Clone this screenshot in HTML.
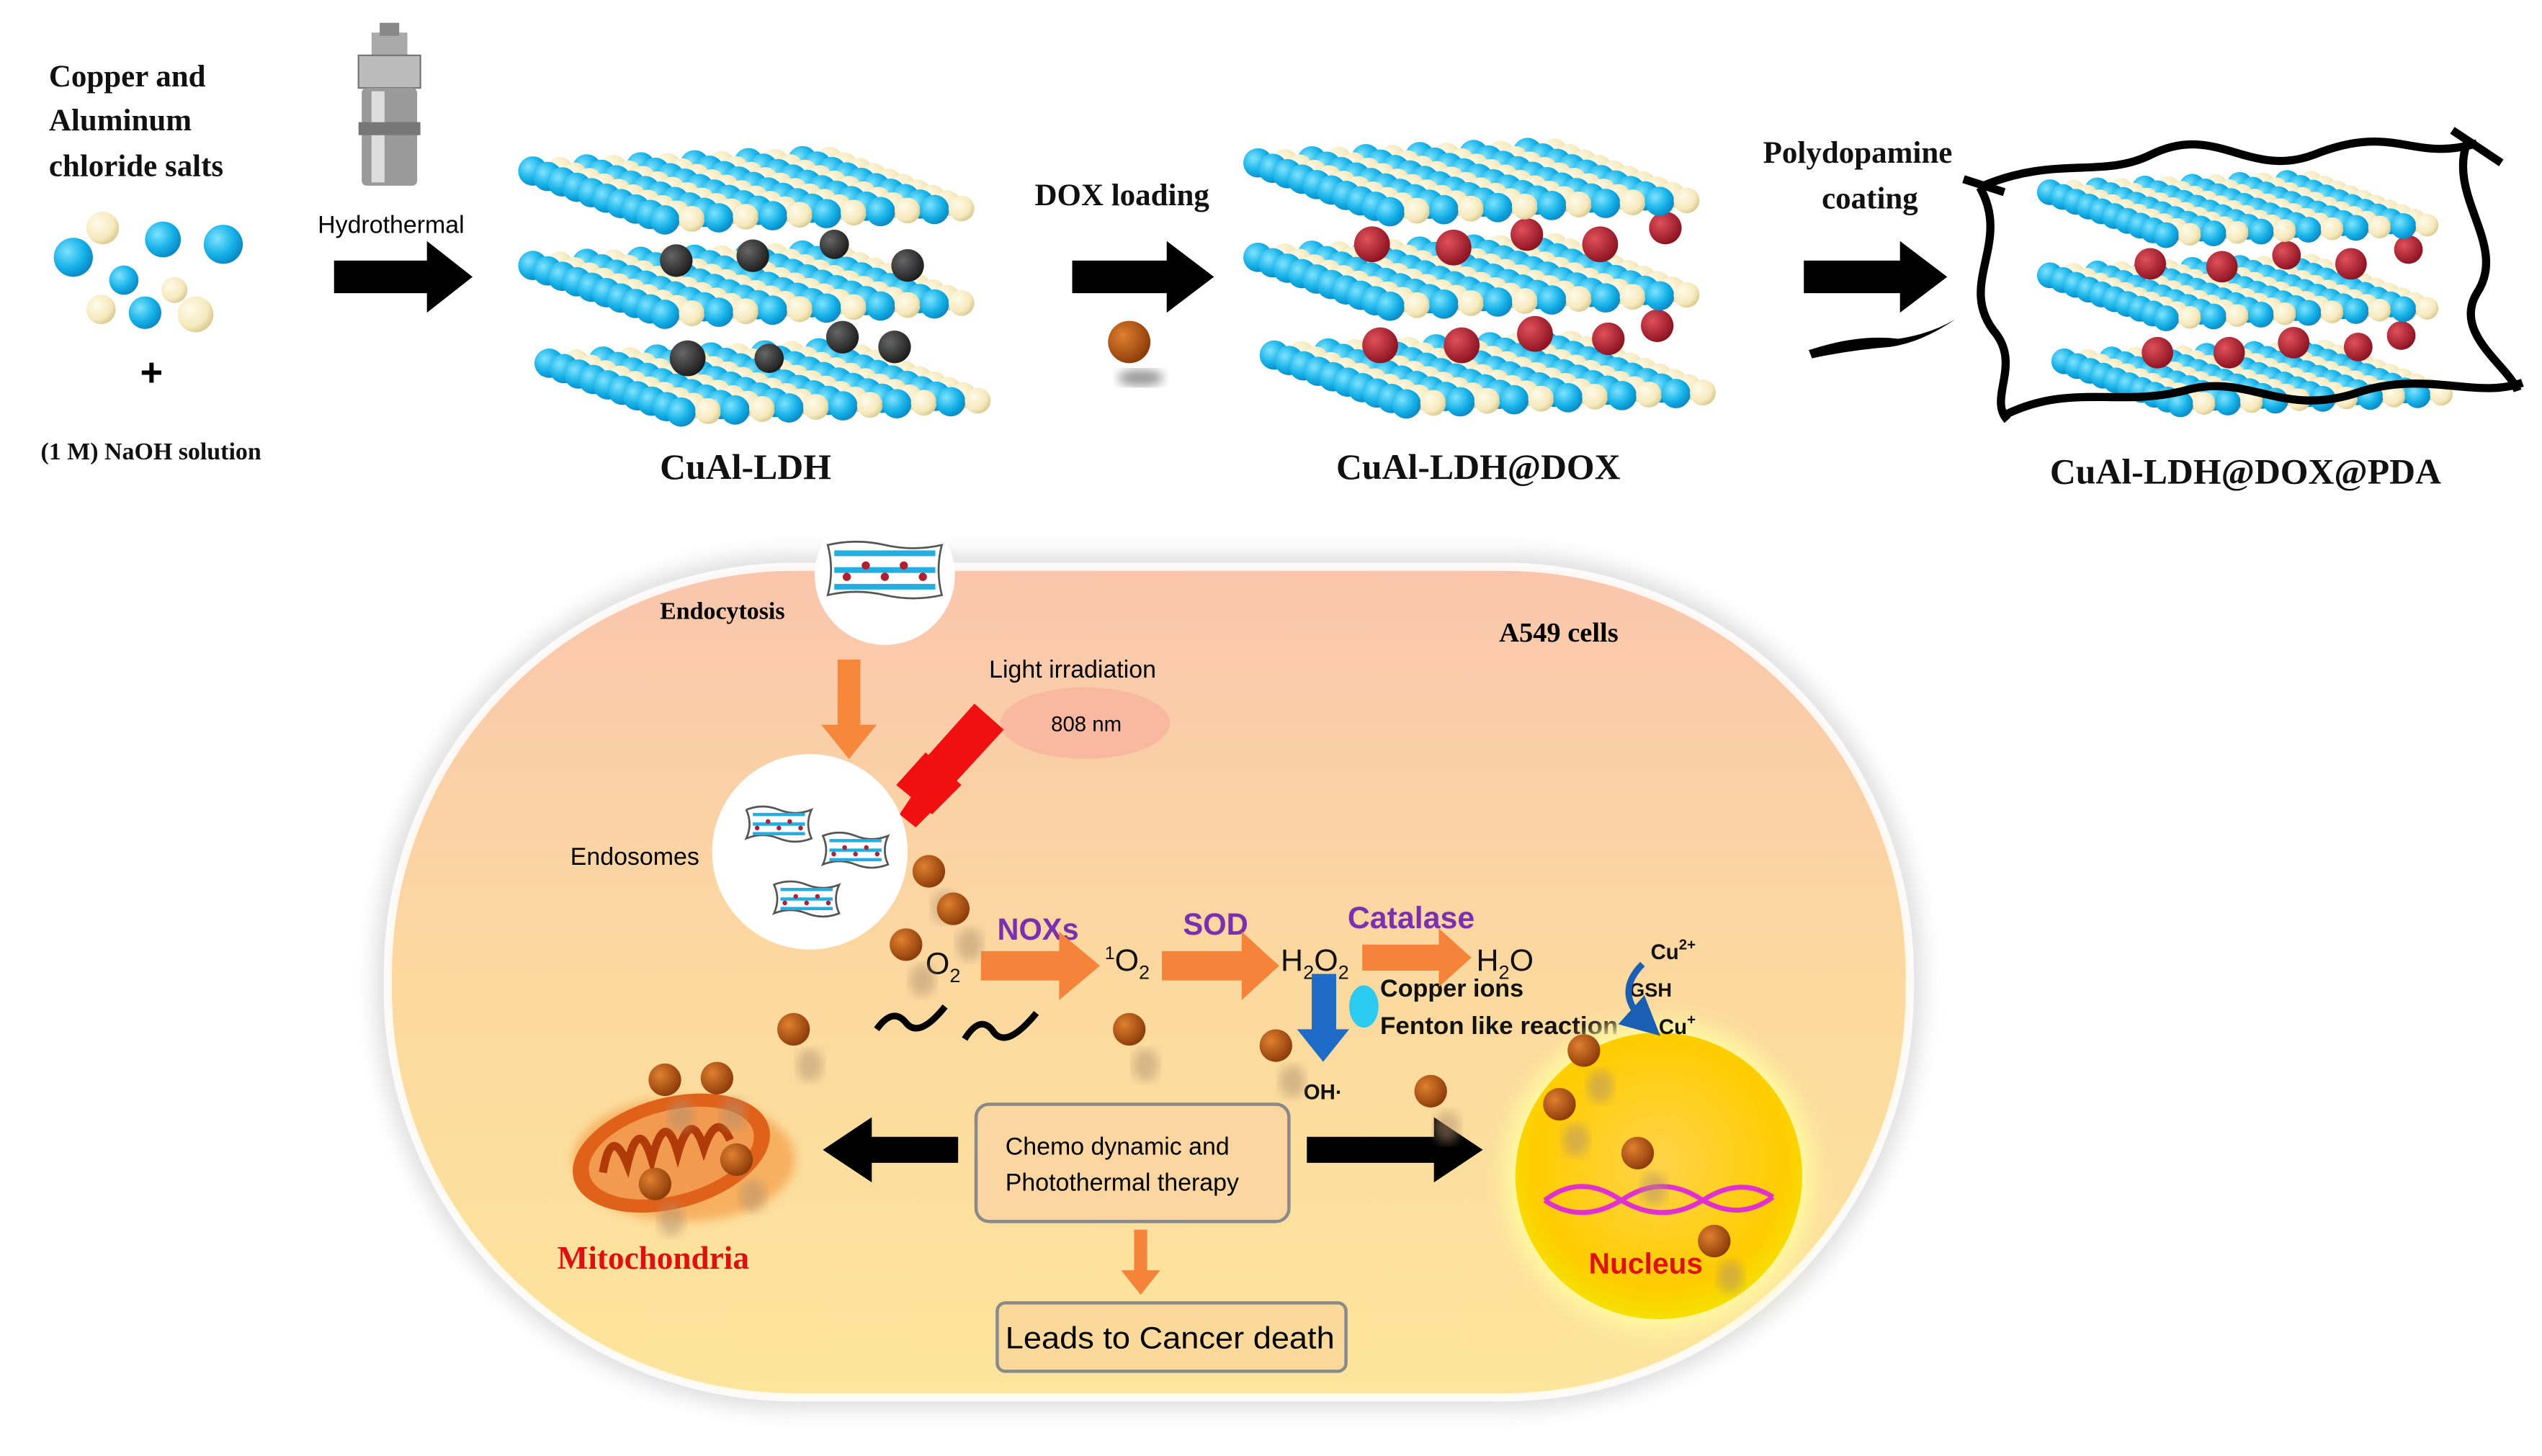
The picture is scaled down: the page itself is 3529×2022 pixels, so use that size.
<!DOCTYPE html>
<html><head><meta charset="utf-8">
<style>
html,body{margin:0;padding:0;background:#fff;}
svg{display:block;}
.serif{font-family:"Liberation Serif",serif;font-weight:bold;}
.sans{font-family:"Liberation Sans",sans-serif;}
</style></head>
<body>
<svg id="s" width="3529" height="2022" viewBox="0 0 1560 894" preserveAspectRatio="none" xmlns="http://www.w3.org/2000/svg">
<defs>
<radialGradient id="gb" cx="35%" cy="35%" r="70%"><stop offset="0" stop-color="#7fe3ff"/><stop offset="0.6" stop-color="#16b2e8"/><stop offset="1" stop-color="#0a86c4"/></radialGradient>
<radialGradient id="gc" cx="35%" cy="35%" r="70%"><stop offset="0" stop-color="#fffbe8"/><stop offset="0.7" stop-color="#f6e9bd"/><stop offset="1" stop-color="#d9c98f"/></radialGradient>
<radialGradient id="gk" cx="35%" cy="35%" r="70%"><stop offset="0" stop-color="#666"/><stop offset="1" stop-color="#1a1a1a"/></radialGradient>
<radialGradient id="gr" cx="35%" cy="35%" r="70%"><stop offset="0" stop-color="#e0505a"/><stop offset="1" stop-color="#8a1020"/></radialGradient>
<radialGradient id="go" cx="35%" cy="35%" r="70%"><stop offset="0" stop-color="#e08030"/><stop offset="1" stop-color="#8a3a08"/></radialGradient>
<linearGradient id="cell" x1="0" y1="0" x2="0" y2="1"><stop offset="0" stop-color="#f9c6ad"/><stop offset="0.5" stop-color="#fcd99f"/><stop offset="1" stop-color="#fde59c"/></linearGradient>
<radialGradient id="nuc" cx="50%" cy="45%" r="55%"><stop offset="0" stop-color="#ffd34a"/><stop offset="0.8" stop-color="#ffcc00"/><stop offset="1" stop-color="#f5e000"/></radialGradient>
<filter id="blur"><feGaussianBlur stdDeviation="6"/></filter>
<filter id="blur2"><feGaussianBlur stdDeviation="3"/></filter>
<marker id="ah" markerWidth="6" markerHeight="6" refX="3" refY="3" orient="auto"><path d="M0,0L6,3L0,6z" fill="#1a5fb4"/></marker>
</defs>

<g class="serif" font-size="19" fill="#111">
<text x="30" y="53">Copper and</text>
<text x="30" y="80">Aluminum</text>
<text x="30" y="108">chloride salts</text>
<text x="25" y="282" font-size="15">(1 M) NaOH solution</text>
<text x="405" y="294" font-size="22">CuAl-LDH</text>
<text x="635" y="126" font-size="19">DOX loading</text>
<text x="820" y="294" font-size="22">CuAl-LDH@DOX</text>
<text x="1082" y="100" font-size="19">Polydopamine</text>
<text x="1118" y="128" font-size="19">coating</text>
<text x="1258" y="297" font-size="22">CuAl-LDH@DOX@PDA</text>
</g>
<text x="86" y="237" font-family="Liberation Sans" font-size="24" font-weight="bold">+</text>
<text x="195" y="143" class="sans" font-size="15">Hydrothermal</text>

<g>
<circle cx="63" cy="140" r="10" fill="url(#gc)"/><circle cx="100" cy="147" r="11" fill="url(#gb)"/>
<circle cx="45" cy="158" r="12" fill="url(#gb)"/><circle cx="137" cy="150" r="12" fill="url(#gb)"/>
<circle cx="76" cy="172" r="9" fill="url(#gb)"/><circle cx="107" cy="178" r="8" fill="url(#gc)"/>
<circle cx="62" cy="190" r="9" fill="url(#gc)"/><circle cx="89" cy="192" r="10" fill="url(#gb)"/>
<circle cx="120" cy="193" r="11" fill="url(#gc)"/>
</g>

<g>
<rect x="228" y="20" width="22" height="14" fill="#aaa"/>
<rect x="233" y="14" width="12" height="8" fill="#888"/>
<rect x="220" y="34" width="38" height="20" fill="#bbb" stroke="#777"/>
<rect x="222" y="54" width="34" height="60" rx="3" fill="#9a9a9a"/>
<rect x="228" y="56" width="8" height="56" fill="#ddd"/>
<rect x="220" y="75" width="38" height="8" fill="#777"/>
</g>

<polygon points="205,160 262,160 262,148 290,170 262,192 262,180 205,180" fill="#000"/>
<polygon points="658,160 716,160 716,148 745,170 716,192 716,180 658,180" fill="#000"/>
<polygon points="1107,160 1166,160 1166,148 1195,170 1166,192 1166,180 1107,180" fill="#000"/>
<path d="M1110,215 Q1140,205 1165,208 Q1185,205 1200,196 Q1180,210 1160,213 Q1135,215 1112,220z" fill="#000"/>
<ellipse cx="700" cy="232" rx="14" ry="5" fill="#999" filter="url(#blur2)"/>
<circle cx="693" cy="210" r="13" fill="url(#go)"/>

<g id="stacks"></g>

<g fill="none" stroke="#000" stroke-width="5">
<path d="M1215,115 C1260,95 1290,110 1320,95 C1360,75 1380,110 1420,95 C1470,75 1480,100 1520,88"/>
<path d="M1230,255 C1270,235 1300,250 1340,240 C1380,228 1400,258 1450,240 C1490,228 1520,245 1548,235"/>
<path d="M1215,115 C1235,150 1200,175 1225,205 C1240,225 1220,245 1232,258"/>
<path d="M1515,85 C1500,120 1540,150 1520,180 C1505,205 1540,225 1545,240"/>
<path d="M1505,80 L1535,100"/>
<path d="M1205,110 L1230,118"/>
</g>

<rect x="230" y="340" width="950" height="526" rx="258" fill="#ddd" filter="url(#blur)" opacity="0.9"/>
<rect x="238" y="348" width="934" height="510" rx="250" fill="url(#cell)"/>
<rect x="238" y="348" width="934" height="510" rx="250" fill="none" stroke="#fff" stroke-width="5" opacity="0.85"/>

<circle cx="543" cy="353" r="43" fill="#fff"/>
<g id="mini1"></g>
<text x="405" y="380" class="serif" font-size="15" font-weight="bold">Endocytosis</text>
<text x="920" y="394" class="serif" font-size="17" font-weight="bold">A549 cells</text>
<text x="607" y="416" class="sans" font-size="15">Light irradiation</text>
<ellipse cx="666" cy="444" rx="52" ry="22" fill="#f8b9a0"/>
<text x="645" y="449" class="sans" font-size="13">808 nm</text>
<g fill="#f01010">
<polygon points="598,432 616,448 582,485 564,470"/>
<polygon points="568,462 590,482 572,500 550,482"/>
<polygon points="560,488 572,498 562,508 552,500"/>
</g>
<polygon points="514,405 528,405 528,445 538,445 521,466 504,445 514,445" fill="#f5883a"/>

<circle cx="497" cy="523" r="60" fill="#fff"/>
<g id="mini2"></g>
<text x="350" y="531" class="sans" font-size="15">Endosomes</text>

<g class="sans" font-size="19" fill="#111">
<text x="568" y="598">O<tspan font-size="12" dy="5">2</tspan></text>
<text x="678" y="596"><tspan font-size="11" dy="-7">1</tspan><tspan dy="7">O</tspan><tspan font-size="12" dy="5">2</tspan></text>
<text x="786" y="596">H<tspan font-size="12" dy="5">2</tspan><tspan dy="-5">O</tspan><tspan font-size="12" dy="5">2</tspan></text>
<text x="906" y="596">H<tspan font-size="12" dy="5">2</tspan><tspan dy="-5">O</tspan></text>
<text x="847" y="612" font-size="15" font-weight="bold" textLength="88" lengthAdjust="spacingAndGlyphs">Copper ions</text>
<text x="847" y="635" font-size="15" font-weight="bold" textLength="146" lengthAdjust="spacingAndGlyphs">Fenton like reaction</text>
<text x="800" y="675" font-size="13" font-weight="bold">OH·</text>
</g>
<g class="sans" font-size="19" fill="#7a30b0" font-weight="bold">
<text x="612" y="577" textLength="50" lengthAdjust="spacingAndGlyphs">NOXs</text>
<text x="726" y="574" textLength="40" lengthAdjust="spacingAndGlyphs">SOD</text>
<text x="827" y="570" textLength="78" lengthAdjust="spacingAndGlyphs">Catalase</text>
</g>
<g fill="#f5843a">
<polygon points="602,584 650,584 650,572 675,593 650,614 650,602 602,602"/>
<polygon points="713,584 762,584 762,572 785,593 762,614 762,602 713,602"/>
<polygon points="836,580 883,580 883,570 903,588 883,606 883,596 836,596"/>
</g>
<polygon points="805,598 820,598 820,632 828,632 812,652 796,632 805,632" fill="#1f6cc8"/>
<ellipse cx="837" cy="618" rx="9" ry="13" fill="#2ccbf0"/>
<path d="M538,632 Q548,618 556,628 Q564,638 580,618" fill="none" stroke="#000" stroke-width="4"/>
<path d="M592,638 Q602,622 610,634 Q618,644 636,622" fill="none" stroke="#000" stroke-width="4"/>

<g>
<ellipse cx="420" cy="712" rx="68" ry="38" fill="#f7b060" filter="url(#blur2)"/>
<ellipse cx="412" cy="708" rx="62" ry="34" fill="#e0621a" transform="rotate(-15 412 708)"/>
<ellipse cx="412" cy="708" rx="52" ry="26" fill="#f29a50" transform="rotate(-15 412 708)"/>
<path d="M370,720 Q375,690 385,715 Q392,685 400,712 Q408,680 416,708 Q424,680 432,705 Q440,682 448,700" fill="none" stroke="#b03a08" stroke-width="5"/>
</g>
<text x="342" y="779" class="serif" font-size="20" fill="#e01010">Mitochondria</text>
<polygon points="588,698 535,698 535,686 505,706 535,726 535,714 588,714" fill="#000"/>
<polygon points="802,698 880,698 880,686 910,706 880,726 880,714 802,714" fill="#000"/>
<rect x="599" y="678" width="192" height="72" rx="8" fill="#fbd6a0" stroke="#8a8a8a" stroke-width="2"/>
<text x="617" y="709" class="sans" font-size="15">Chemo dynamic and</text>
<text x="617" y="731" class="sans" font-size="15">Photothermal therapy</text>
<polygon points="696,755 704,755 704,780 712,780 700,795 688,780 696,780" fill="#f5843a"/>
<rect x="612" y="800" width="214" height="42" rx="5" fill="#fbd99a" stroke="#8a8a8a" stroke-width="2"/>
<text x="617" y="828" class="sans" font-size="19" textLength="202" lengthAdjust="spacingAndGlyphs">Leads to Cancer death</text>

<circle cx="1018" cy="722" r="96" fill="#fff7a0" filter="url(#blur)"/>
<circle cx="1018" cy="722" r="88" fill="url(#nuc)"/>
<path d="M948,737 Q970,720 995,737 Q1020,752 1045,737 Q1068,722 1088,735 M948,737 Q970,752 995,737 Q1020,720 1045,737 Q1068,750 1088,735" fill="none" stroke="#e030d0" stroke-width="3"/>
<text x="975" y="782" class="sans" font-size="18" font-weight="bold" fill="#e01010">Nucleus</text>

<g class="sans" fill="#111" font-weight="bold">
<text x="1013" y="589" font-size="13">Cu<tspan font-size="9" dy="-6">2+</tspan></text>
<text x="1000" y="612" font-size="12">GSH</text>
<text x="1018" y="635" font-size="13">Cu<tspan font-size="9" dy="-6">+</tspan></text>
</g>
<path d="M1008,592 Q990,610 1010,628" fill="none" stroke="#1a5fb4" stroke-width="4" marker-end="url(#ah)"/>

<g id="dots"></g>
</svg>
<script>
(function(){
var NS="http://www.w3.org/2000/svg";
function el(p,t,a){var e=document.createElementNS(NS,t);for(var k in a)e.setAttribute(k,a[k]);p.appendChild(e);return e;}
var st=document.getElementById('stacks');
function layer(g,A,B,C,r,nd,nf){
  for(var i=0;i<nd;i++){for(var j=0;j<nf;j++){
    var x=A[0]+(B[0]-A[0])*i/(nd-1)+(C[0]-B[0])*j/(nf-1);
    var y=A[1]+(B[1]-A[1])*i/(nd-1)+(C[1]-B[1])*j/(nf-1);
    el(g,'circle',{cx:x,cy:y,r:(j%2==0?r:r*0.88),fill:(j%2==0?'url(#gb)':'url(#gc)')});
  }}
}
function stack(ox,oy,s,fill,extra){
  var offs=[[0,0],[0,58],[10,118]];
  for(var L=2;L>=0;L--){
    var o=offs[L];
    var A=[ox+o[0]*s,oy+o[1]*s],B=[A[0]+81*s,A[1]+30*s],C=[B[0]+182*s,B[1]-7*s];
    if(L<2){for(var k=0;k<extra.length;k++){var e=extra[k];if(e[2]==L)el(st,'circle',{cx:ox+e[0]*s,cy:oy+e[1]*s,r:e[3]*s,fill:fill});}}
    var lg=el(st,'g',{});
    layer(lg,A,B,C,9*s,10,12);
  }
}
var kb=[[88,55,0,10],[135,52,0,10],[185,45,0,9],[230,58,0,10],[95,115,1,11],[145,115,1,9],[190,102,1,10],[222,108,1,10]];
stack(327,105,1,'url(#gk)',kb);
var rb=[[70,50,0,11],[120,52,0,11],[165,44,0,10],[210,50,0,11],[250,40,0,10],[75,112,1,11],[125,112,1,11],[170,105,1,11],[215,108,1,10],[245,100,1,10]];
stack(772,100,1,'url(#gr)',rb);
stack(1258,118,0.88,'url(#gr)',rb);
function mini(gid,cx,cy,sc){
  var g=document.getElementById(gid);
  var w=50*sc,h=22*sc;
  el(g,'path',{d:'M'+(cx-w/2)+','+(cy-h/2)+' q'+w/4+',-4 '+w/2+',0 t'+w/2+',0 q-4,'+h/2+' 0,'+h+' q-'+w/4+',4 -'+w/2+',0 t-'+w/2+',0 q4,-'+h/2+' 0,-'+h+'z',fill:'#fff',stroke:'#555','stroke-width':1.2});
  for(var r=0;r<3;r++){el(g,'line',{x1:cx-w/2+4,y1:cy-h/3+r*h/3,x2:cx+w/2-4,y2:cy-h/3+r*h/3,stroke:'#22aee0','stroke-width':2.5*sc});}
  for(var k=0;k<5;k++){el(g,'circle',{cx:cx-w/3+k*w/6,cy:cy+(k%2?-2:3)*sc,r:1.8*sc,fill:'#b02030'});}
}
mini('mini1',543,350,1.4);
mini('mini2',478,506,0.8);mini('mini2',525,522,0.8);mini('mini2',495,552,0.8);
var d=document.getElementById('dots');
var pts=[[570,535],[585,558],[556,580],[487,632],[693,632],[783,642],[878,670],[972,645],[957,678],[1005,708],[1052,762],[408,663],[440,662],[452,712],[402,727]];
for(var i=0;i<pts.length;i++){
  el(d,'ellipse',{cx:pts[i][0]+10,cy:pts[i][1]+22,rx:8,ry:10,fill:'#b09070',opacity:0.5,filter:'url(#blur2)'});
  el(d,'circle',{cx:pts[i][0],cy:pts[i][1],r:10,fill:'url(#go)'});
}
})();
</script>
</body></html>
